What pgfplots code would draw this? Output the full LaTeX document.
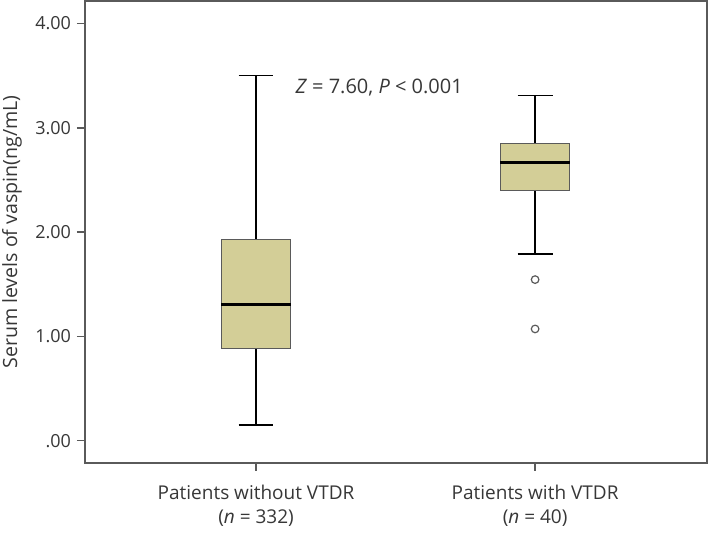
\documentclass[border=0pt]{standalone}
\usepackage{fontspec}
\setmainfont{Open Sans}
\usepackage{pgfplots}
\pgfplotsset{compat=1.18}
\usepgfplotslibrary{statistics}
\definecolor{boxfill}{RGB}{211,206,151}
\definecolor{axisgray}{RGB}{90,90,90}
\definecolor{txtgray}{RGB}{55,55,55}

\begin{document}
\begin{tikzpicture}
% page frame, axis lower-left corner at (0,0)
\path[use as bounding box] (-42.5pt,-35.5pt) rectangle (312pt,231.5pt);
\begin{axis}[
  scale only axis,
  width=311pt, height=231pt,
  xmin=0.387, xmax=2.616,
  ymin=-0.214, ymax=4.215,
  axis line style={axisgray, line width=0.8pt},
  tick align=outside, tick pos=left,
  major tick length=4pt,
  tick style={axisgray, line width=0.8pt},
  xtick={1,2},
  xticklabels={{Patients without VTDR\\(\textit{n} = 332)},{Patients with VTDR\\(\textit{n} = 40)}},
  xticklabel style={align=center, font=\fontsize{9.5}{12.2}\selectfont, text=txtgray, yshift=-3.5pt},
  ytick={0,1,2,3,4},
  yticklabels={.00,1.00,2.00,3.00,4.00},
  yticklabel style={font=\fontsize{9}{10}\selectfont, text=txtgray, xshift=0.5pt},
  ylabel={Serum levels of vaspin(ng/mL)},
  ylabel style={font=\fontsize{9.8}{11}\selectfont, text=txtgray,
    at={(axis description cs:-0.1174,0.5)}, anchor=center},
  boxplot/draw direction=y,
  boxplot/every box/.style={draw=axisgray, fill=boxfill, line width=0.5pt},
  boxplot/every median/.style={black, line width=1.5pt},
  boxplot/every whisker/.style={black, line width=0.85pt},
  clip=false,
]
% without VTDR
\addplot[boxplot prepared={
    lower whisker=0.15, lower quartile=0.88, median=1.31,
    upper quartile=1.93, upper whisker=3.50,
    draw position=1, box extend=0.25, whisker extend=0.125},
  mark=none] coordinates {};
% with VTDR, two outliers
\addplot[boxplot prepared={
    lower whisker=1.79, lower quartile=2.40, median=2.67,
    upper quartile=2.85, upper whisker=3.31,
    draw position=2, box extend=0.25, whisker extend=0.125},
  mark=o, mark size=1.9pt, mark options={axisgray, line width=0.6pt}]
  coordinates {(0,1.544) (0,1.071)};

\node[anchor=west, font=\fontsize{10}{12}\selectfont, text=txtgray, inner sep=0pt]
  at (axis cs:1.14,3.39) {\textit{Z} = 7.60, \textit{P} < 0.001};
\end{axis}
\end{tikzpicture}
\end{document}
